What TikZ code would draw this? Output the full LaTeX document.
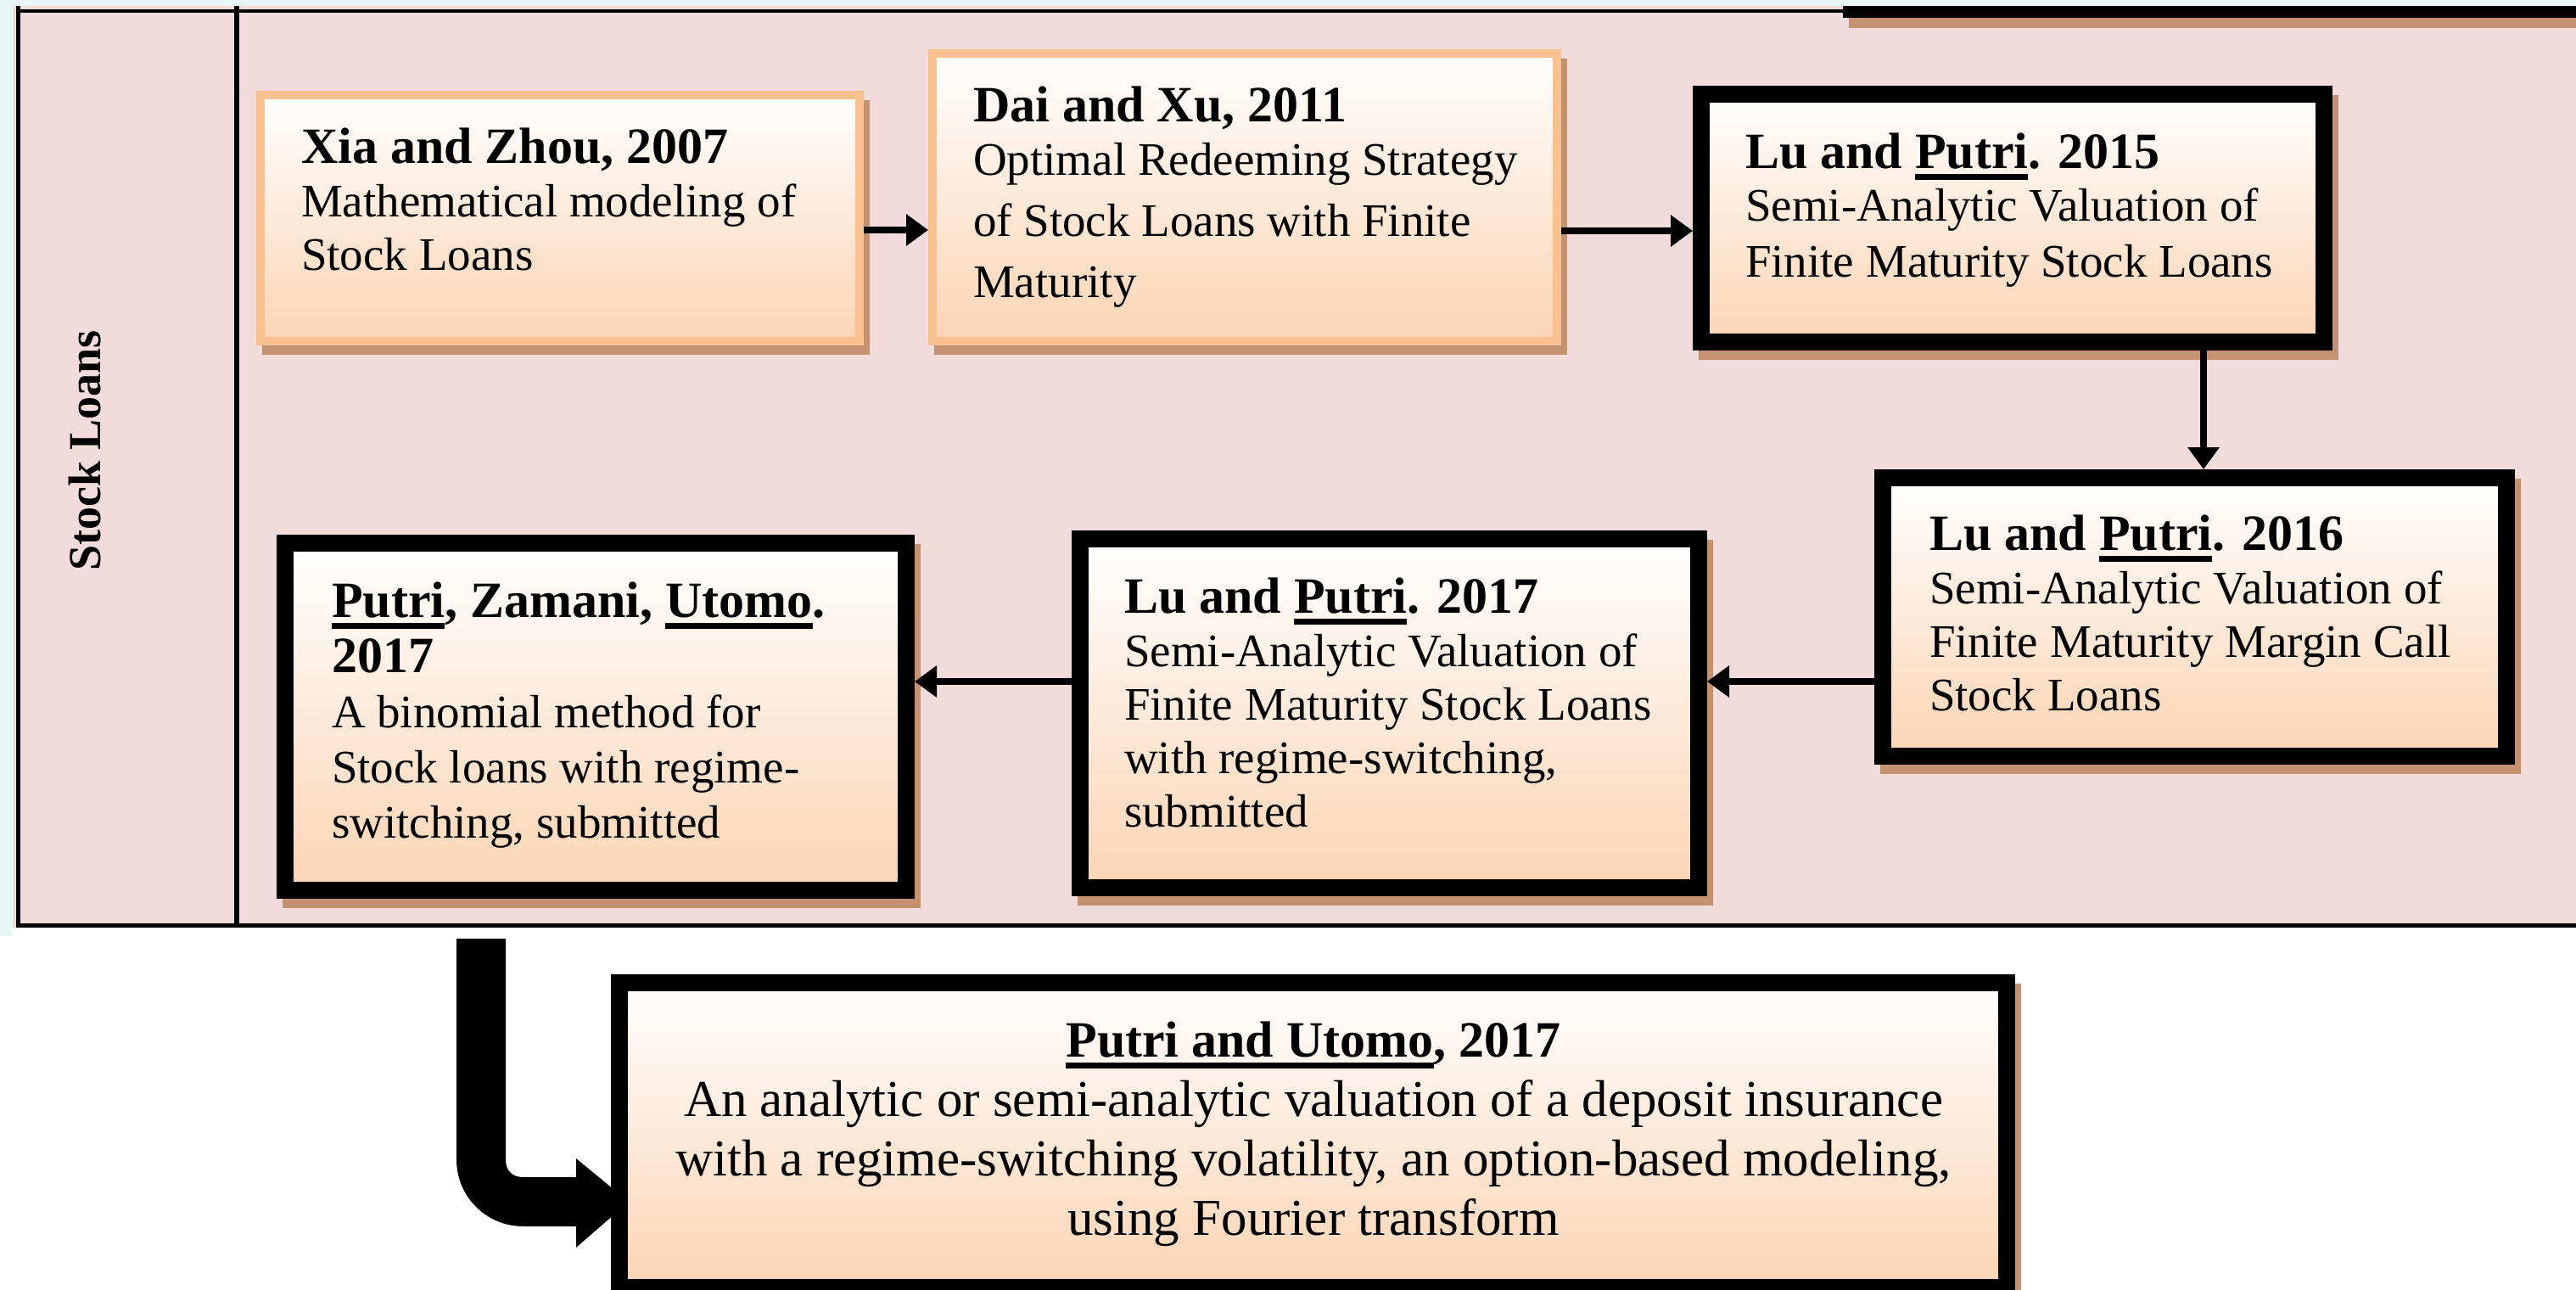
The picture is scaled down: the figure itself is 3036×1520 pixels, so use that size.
\documentclass[tikz,border=0pt]{standalone}
\usepackage{fontspec}
\setmainfont{Liberation Serif}
\usetikzlibrary{arrows.meta}

\definecolor{panelpink}{RGB}{242,220,219}
\definecolor{edgecyan}{RGB}{232,246,246}
\definecolor{peach}{RGB}{251,212,180}
\definecolor{orangeedge}{RGB}{250,192,144}
\definecolor{shadowbrown}{RGB}{196,146,112}

\pgfdeclarelayer{back}
\pgfdeclarelayer{shade}
\pgfsetlayers{back,shade,main}

% thick underline below the baseline
\newcommand\thickul[1]{\setbox0\hbox{#1}\rlap{\vrule width\wd0 height -7pt depth 14pt}\box0}
% lines of a box text, stacked with a fixed baseline distance
\newcommand\bxstack[2]{\vtop{\baselineskip=#1\relax\lineskiplimit=-1000pt\relax #2}}
\newcommand\bxtitle[1]{\hbox{\fontsize{60}{63}\selectfont\bfseries #1}}
\newcommand\bxline[1]{\hbox{\fontsize{55}{63}\selectfont #1}}
\newcommand\bxctitle[1]{\hbox to 1600pt{\hfil\fontsize{60}{63}\selectfont\bfseries #1\hfil}}
\newcommand\bxcline[1]{\hbox to 1600pt{\hfil\fontsize{61}{70}\selectfont #1\hfil}}

\begin{document}
\begin{tikzpicture}[x=1pt,y=-1pt,
  lightbox/.style={rectangle, draw=orangeedge, line width=10pt,
    top color=white, bottom color=peach, inner sep=0pt},
  heavybox/.style={rectangle, draw=black, line width=20pt,
    top color=white, bottom color=peach, inner sep=0pt},
  txt/.style={inner sep=0pt, outer sep=0pt, anchor=base west},
  link/.style={line width=8pt, -{Triangle[length=26pt,width=36pt]}},
  frame/.style={line width=5pt, black}]
\useasboundingbox (0,0) rectangle (3036,1520);

% panel and margins
\begin{pgfonlayer}{back}
  \fill[white] (0,0) rectangle (3036,1520);
  \fill[edgecyan] (0,0) rectangle (3036,7);
  \fill[edgecyan] (0,0) rectangle (15,1103);
  \fill[panelpink] (15,7) rectangle (3036,1093);
\end{pgfonlayer}
\draw[line width=4pt] (19,13.5) -- (3036,13.5);
\draw[frame] (21.5,7) -- (21.5,1093);
\draw[line width=6pt] (279,7) -- (279,1090);
\draw[frame] (19,1090.5) -- (3036,1090.5);

% lower edge of the box above
\fill[shadowbrown] (2179,21) rectangle (3036,33);
\fill[black] (2172,7) rectangle (3036,21);

% row label
\node[rotate=90, anchor=base, inner sep=0pt, font=\fontsize{54}{60}\selectfont\bfseries]
  (lbl) at (118,531) {Stock Loans};

% boxes
\node[lightbox, minimum width=706pt, minimum height=290pt] (xia) at (660,257) {};
\node[lightbox, minimum width=736pt, minimum height=339pt] (dai) at (1467,232.5) {};
\node[heavybox, minimum width=734pt, minimum height=292pt] (l15) at (2372,257) {};
\node[heavybox, minimum width=735pt, minimum height=328pt] (l16) at (2586.5,727) {};
\node[heavybox, minimum width=729pt, minimum height=411pt] (l17) at (1637.5,840.5) {};
\node[heavybox, minimum width=732pt, minimum height=409pt] (pzu) at (702,844.5) {};

% bent arrow down to the last study
\fill[black] (538,1106) -- (596,1106) -- (596,1367)
  .. controls (596,1379) and (604,1387) .. (616,1387) -- (679,1387)
  -- (679,1365) -- (741,1416) -- (679,1470) -- (679,1445) -- (617,1445)
  .. controls (573,1445) and (538,1410) .. (538,1366) -- cycle;

\node[heavybox, minimum width=1635pt, minimum height=359pt] (pu) at (1547.5,1337.5) {};

% drop shadows
\begin{pgfonlayer}{shade}
  \foreach \b in {xia,dai,l15,l16,l17,pzu,pu}
    \fill[shadowbrown] ([shift={(7,11)}]\b.south west) rectangle ([shift={(7,11)}]\b.north east);
\end{pgfonlayer}

% texts
\node[txt] (xiaT) at (355,192) {\bxstack{63pt}{%
  \bxtitle{Xia and Zhou, 2007}%
  \bxline{Mathematical modeling of}%
  \bxline{Stock Loans}}};
\node[txt] (daiT) at (1147,143) {\bxstack{72pt}{%
  \bxtitle{Dai and Xu, 2011}\vskip-9pt
  \bxline{Optimal Redeeming Strategy}%
  \bxline{of Stock Loans with Finite}%
  \bxline{Maturity}}};
\node[txt] (l15T) at (2057,198) {\bxstack{66pt}{%
  \bxtitle{Lu and \thickul{Putri}. 2015}\vskip-4pt
  \bxline{Semi-Analytic Valuation of}%
  \bxline{Finite Maturity Stock Loans}}};
\node[txt] (l16T) at (2274,648) {\bxstack{63pt}{%
  \bxtitle{Lu and \thickul{Putri}. 2016}%
  \bxline{Semi-Analytic Valuation of}%
  \bxline{Finite Maturity Margin Call}%
  \bxline{Stock Loans}}};
\node[txt] (l17T) at (1325,722) {\bxstack{63pt}{%
  \bxtitle{Lu and \thickul{Putri}. 2017}%
  \bxline{Semi-Analytic Valuation of}%
  \bxline{Finite Maturity Stock Loans}%
  \bxline{with regime-switching,}%
  \bxline{submitted}}};
\node[txt] (pzuT) at (391,727) {\bxstack{65pt}{%
  \bxtitle{\thickul{Putri}, Zamani, \thickul{Utomo}.}%
  \bxtitle{2017}%
  \bxline{A binomial method for}%
  \bxline{Stock loans with regime-}%
  \bxline{switching, submitted}}};
\node[txt, anchor=base] (puT) at (1548,1245) {\bxstack{70pt}{%
  \bxctitle{\thickul{Putri and Utomo}, 2017}%
  \bxcline{An analytic or semi-analytic valuation of a deposit insurance}%
  \bxcline{with a regime-switching volatility, an option-based modeling,}%
  \bxcline{using Fourier transform}}};

% connectors
\coordinate (r1) at (0,271);
\coordinate (r2) at (0,272);
\coordinate (c1) at (2597,0);
\coordinate (r3) at (0,803);
\draw[link] (xia.east |- r1) -- (dai.west |- r1);
\draw[link] (dai.east |- r2) -- (l15.west |- r2);
\draw[link] (l15.south -| c1) -- (l16.north -| c1);
\draw[link] (l16.west |- r3) -- (l17.east |- r3);
\draw[link] (l17.west |- r3) -- (pzu.east |- r3);
\end{tikzpicture}
\end{document}
